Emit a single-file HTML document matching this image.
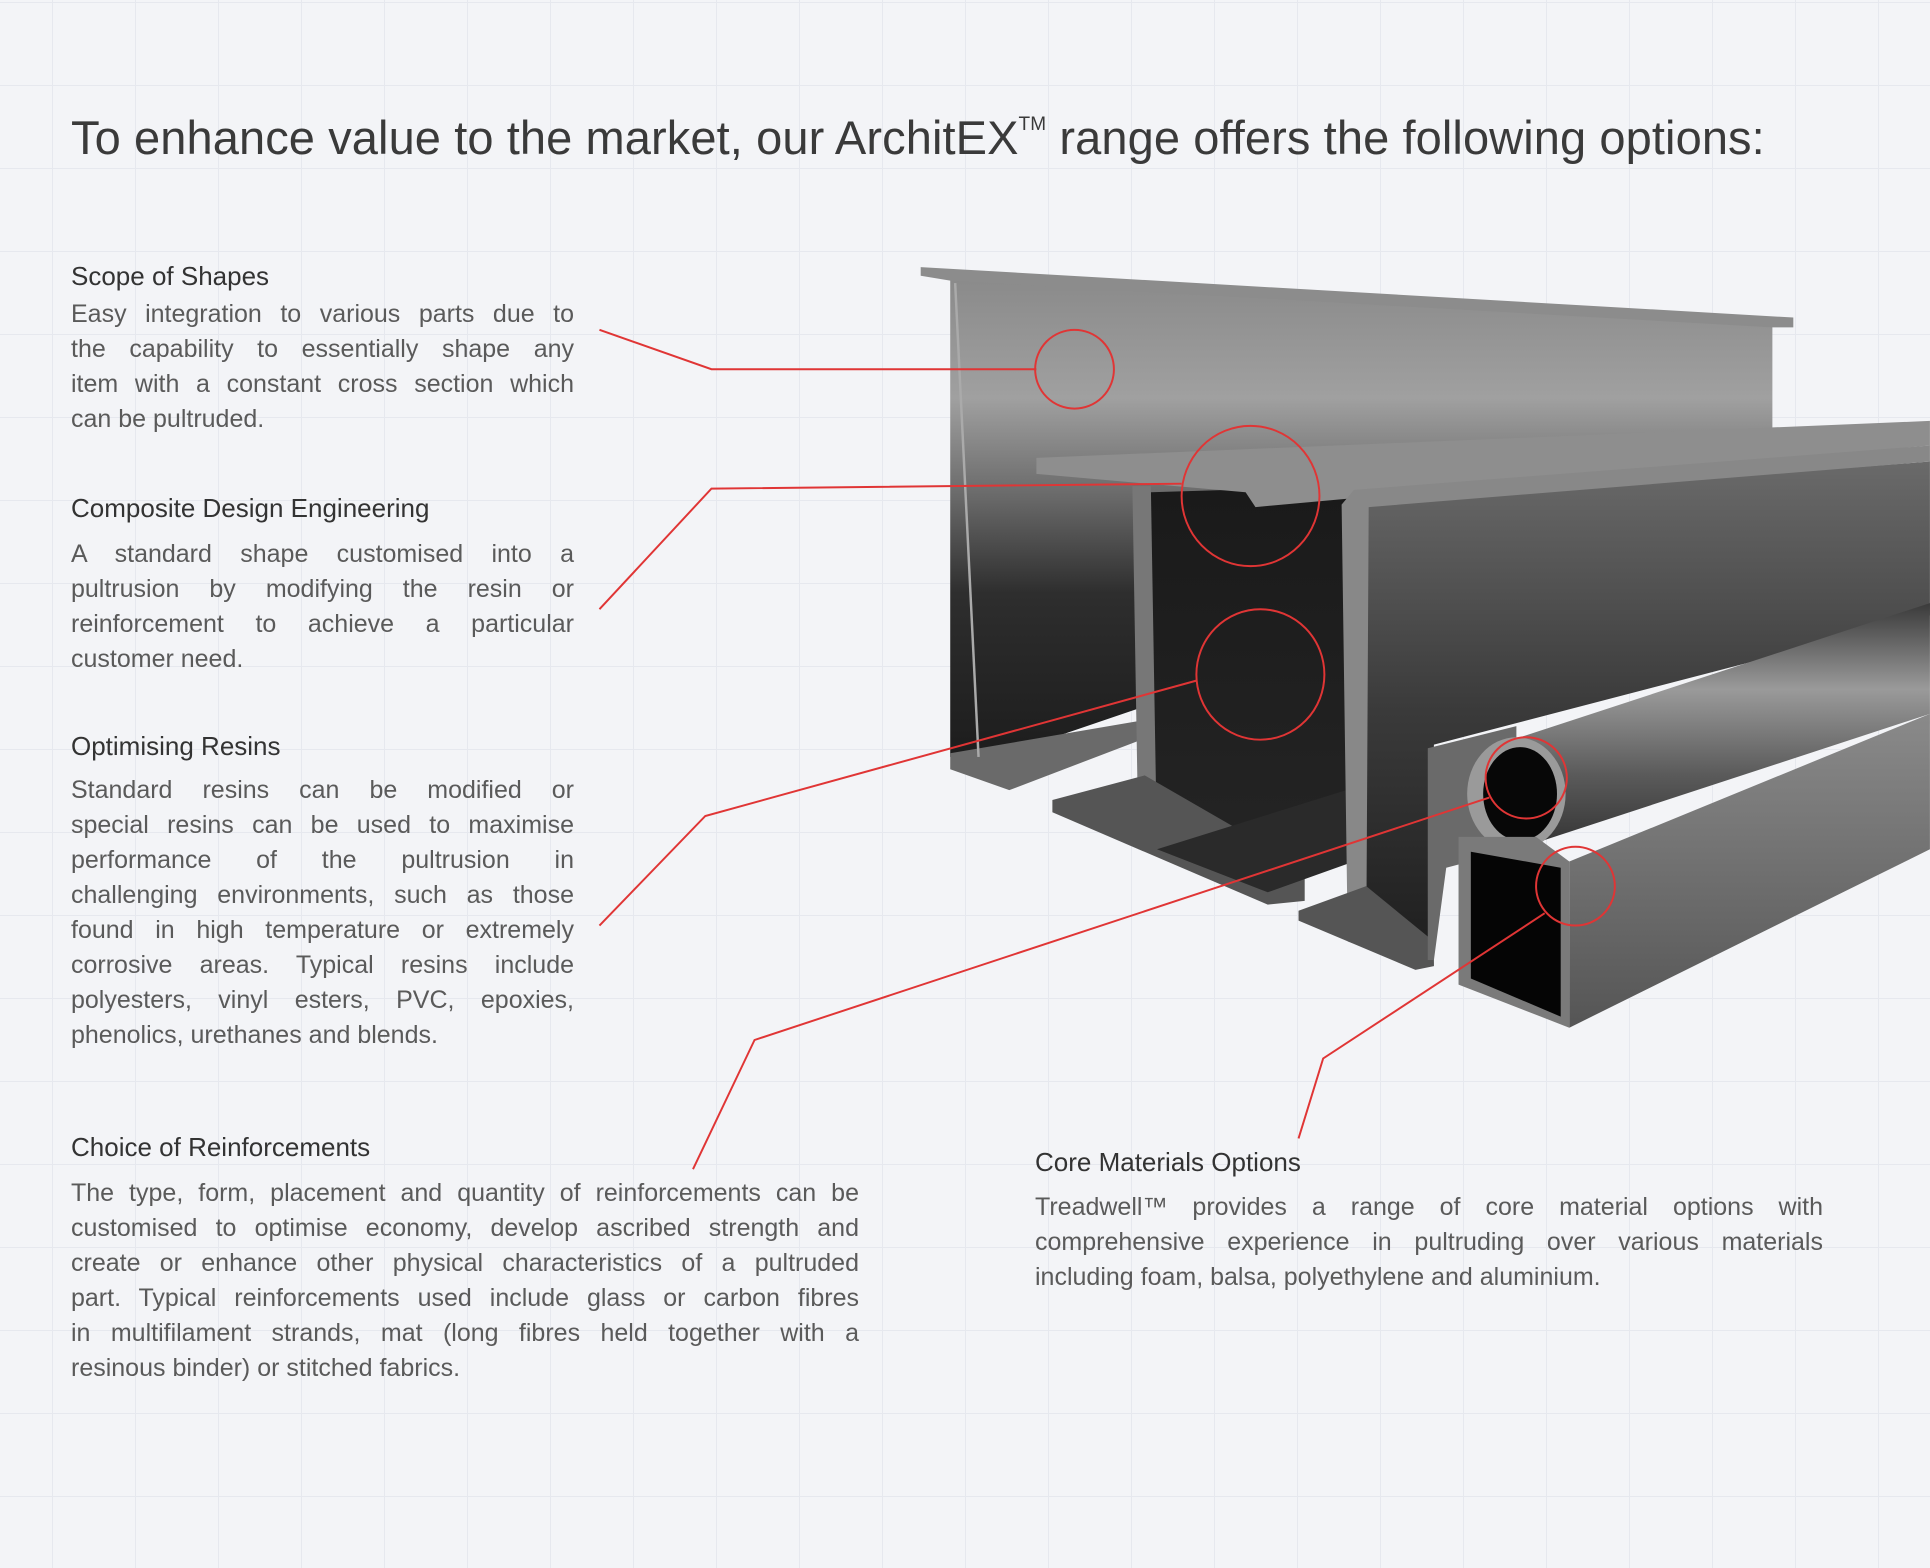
<!DOCTYPE html>
<html><head><meta charset="utf-8"><style>
html,body{margin:0;padding:0}
body{width:1930px;height:1568px;position:relative;overflow:hidden;background:#f3f4f7;font-family:"Liberation Sans",sans-serif;
background-image:linear-gradient(#e6e8ee 1px,transparent 1px),linear-gradient(90deg,#e6e8ee 1px,transparent 1px);background-size:83px 83px;background-position:52px 2px}
.t{position:absolute;left:71px;top:110px;font-size:47px;color:#3a3a3a;white-space:nowrap;letter-spacing:0.1px}
.t sup{font-size:19px;vertical-align:24px}
.h{position:absolute;font-size:26px;color:#333;line-height:28px;white-space:nowrap}
.b{position:absolute;font-size:25px;color:#5a5a5a;line-height:35px}
.b div{text-align:justify;text-align-last:justify;white-space:nowrap}
.b div.e{text-align-last:left}
svg{position:absolute;left:0;top:0}
</style></head><body>
<svg width="1930" height="1568" viewBox="0 0 1568 1274">
<defs>
<linearGradient id="w1" x1="0" y1="0" x2="0" y2="1"><stop offset="0" stop-color="#8a8a8a"/><stop offset="0.25" stop-color="#a0a0a0"/><stop offset="0.45" stop-color="#6a6a6a"/><stop offset="0.65" stop-color="#2e2e2e"/><stop offset="1" stop-color="#1c1c1c"/></linearGradient>
<linearGradient id="w2" x1="0" y1="0" x2="0" y2="1"><stop offset="0" stop-color="#1a1a1a"/><stop offset="1" stop-color="#242424"/></linearGradient>
<linearGradient id="c1" x1="0" y1="0" x2="0" y2="1"><stop offset="0" stop-color="#6a6a6a"/><stop offset="0.5" stop-color="#3a3a3a"/><stop offset="1" stop-color="#1e1e1e"/></linearGradient>
<linearGradient id="p1" x1="0" y1="0" x2="0" y2="1"><stop offset="0" stop-color="#3a3a3a"/><stop offset="0.35" stop-color="#9a9a9a"/><stop offset="0.7" stop-color="#5a5a5a"/><stop offset="1" stop-color="#333"/></linearGradient>
<linearGradient id="s1" x1="0" y1="0" x2="0" y2="1"><stop offset="0" stop-color="#8a8a8a"/><stop offset="1" stop-color="#555"/></linearGradient>
</defs>
<polygon points="772,225 1440,262 1440,400 795,620 772,615" fill="url(#w1)"/>
<polygon points="748,217 1457,258 1457,266 1440,266 772,228 748,224" fill="#8c8c8c"/>
<polygon points="772,612 930,585 930,600 820,642 772,625" fill="#6a6a6a"/>
<line x1="776" y1="230" x2="795" y2="615" stroke="#aaa" stroke-width="2"/>
<polygon points="935,400 1100,395 1100,650 935,690" fill="url(#w2)"/>
<polygon points="842,372 1568,342 1568,362 1020,412 1012,400 842,385" fill="#8e8e8e"/>
<polygon points="920,395 935,395 940,690 925,690" fill="#777"/>
<polygon points="855,650 930,630 1060,705 1060,732 1030,735 855,660" fill="#555"/>
<polygon points="940,690 1100,640 1100,700 1030,725" fill="#2a2a2a"/>
<polygon points="1110,410 1568,375 1568,500 1165,605 1160,780 1110,760" fill="url(#c1)"/>
<polygon points="1090,410 1100,398 1568,362 1568,375 1112,412 1110,770 1095,765" fill="#888"/>
<polygon points="1055,740 1110,720 1165,765 1165,785 1150,788 1055,748" fill="#555"/>
<polygon points="1232,600 1568,490 1568,580 1232,690" fill="url(#p1)"/>
<polygon points="1160,608 1232,590 1232,690 1175,705 1165,780 1160,780" fill="#6a6a6a"/>
<ellipse cx="1232" cy="645" rx="40" ry="46" fill="#9a9a9a"/>
<ellipse cx="1235" cy="645" rx="30" ry="38" fill="#070707"/>
<polygon points="1275,700 1568,580 1568,690 1275,835" fill="url(#s1)"/>
<polygon points="1185,680 1248,680 1275,700 1275,835 1185,800" fill="#7a7a7a"/>
<polygon points="1195,692 1268,705 1268,826 1195,795" fill="#050505"/>
<g stroke="#e03535" stroke-width="1.6" fill="none">
<circle cx="873" cy="300" r="32"/>
<ellipse cx="1016" cy="403" rx="56" ry="57"/>
<ellipse cx="1024" cy="548" rx="52" ry="53"/>
<circle cx="1240" cy="632" r="33"/>
<circle cx="1280" cy="720" r="32"/>
<polyline points="487,268 578,300 842,300"/>
<polyline points="487,495 578,397 960,393"/>
<polyline points="487,752 573,663 972,553"/>
<polyline points="563,950 613,845 1210,648"/>
<polyline points="1055,925 1075,860 1255,742"/>
</g>
</svg>
<div class="t">To enhance value to the market, our ArchitEX<sup>TM</sup> range offers the following options:</div>

<div class="h" style="left:71px;top:262px">Scope of Shapes</div>
<div class="b" style="left:71px;top:297px;width:503px">
<div>Easy integration to various parts due to</div><div>the capability to essentially shape any</div><div>item with a constant cross section which</div><div class="e">can be pultruded.</div></div>

<div class="h" style="left:71px;top:494px">Composite Design Engineering</div>
<div class="b" style="left:71px;top:537px;width:503px">
<div>A standard shape customised into a</div><div>pultrusion by modifying the resin or</div><div>reinforcement to achieve a particular</div><div class="e">customer need.</div></div>

<div class="h" style="left:71px;top:732px">Optimising Resins</div>
<div class="b" style="left:71px;top:773px;width:503px">
<div>Standard resins can be modified or</div><div>special resins can be used to maximise</div><div>performance of the pultrusion in</div><div>challenging environments, such as those</div><div>found in high temperature or extremely</div><div>corrosive areas. Typical resins include</div><div>polyesters, vinyl esters, PVC, epoxies,</div><div class="e">phenolics, urethanes and blends.</div></div>

<div class="h" style="left:71px;top:1133px">Choice of Reinforcements</div>
<div class="b" style="left:71px;top:1176px;width:788px">
<div>The type, form, placement and quantity of reinforcements can be</div><div>customised to optimise economy, develop ascribed strength and</div><div>create or enhance other physical characteristics of a pultruded</div><div>part. Typical reinforcements used include glass or carbon fibres</div><div>in multifilament strands, mat (long fibres held together with a</div><div class="e">resinous binder) or stitched fabrics.</div></div>

<div class="h" style="left:1035px;top:1148px">Core Materials Options</div>
<div class="b" style="left:1035px;top:1190px;width:788px">
<div>Treadwell™ provides a range of core material options with</div><div>comprehensive experience in pultruding over various materials</div><div class="e">including foam, balsa, polyethylene and aluminium.</div></div>
</body></html>
